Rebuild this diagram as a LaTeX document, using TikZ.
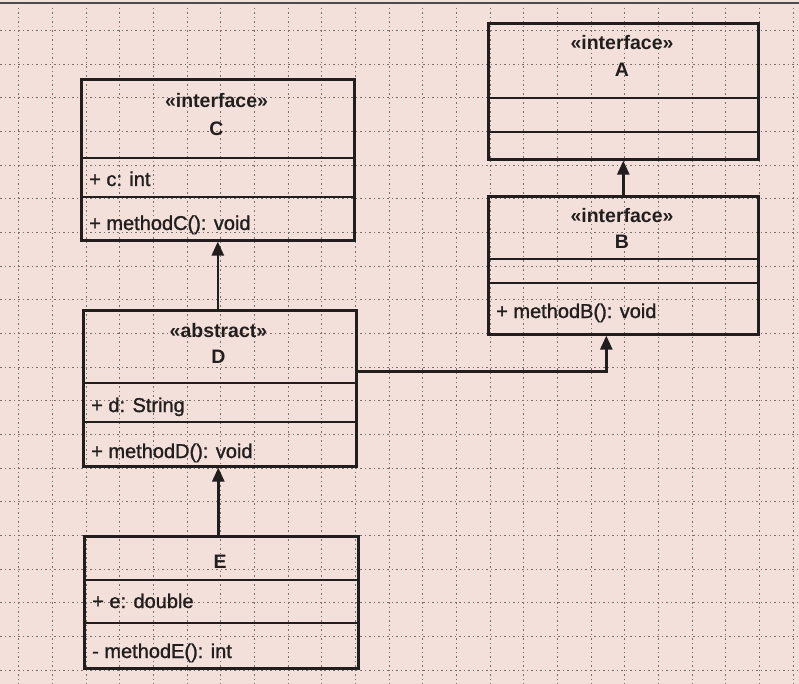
\documentclass[tikz,border=0pt]{standalone}
\usepackage{fontspec}
\setmainfont{Liberation Sans}
\newfontfamily\heavyfont[FakeBold=1.2]{Liberation Sans}
\usetikzlibrary{arrows.meta}
\definecolor{paper}{RGB}{243,224,218}
\definecolor{ink}{RGB}{34,30,30}
\definecolor{gridink}{RGB}{120,110,108}
\begin{document}
\begin{tikzpicture}[x=1pt,y=-1pt,
  classbox/.style={draw=ink, line width=2.6pt, inner sep=0pt, anchor=north west},
  divider/.style={draw=ink, line width=2.4pt},
  stereo/.style={anchor=base, inner sep=0pt, font=\fontsize{19.5}{22}\selectfont\bfseries, text=ink},
  member/.style={anchor=base west, inner sep=0pt, font=\fontsize{20}{22}\heavyfont, text=ink},
  gen/.style={draw=ink, line width=2.6pt, -{Triangle[length=14pt,width=12pt]}},
  gridline/.style={draw=gridink, line width=0.7pt, dash pattern=on 1.5pt off 3pt}]
% paper and its printed grid
\fill[paper] (0,0) rectangle (799,684);
\useasboundingbox (0,0) rectangle (799,684);
\foreach \gx in {18,52,86,119,153,187,220,254,288,321,355,389,422,456,490,523,557,591,624,658,692,725,759,793}
  \draw[gridline] (\gx,8) -- (\gx,684);
\foreach \gy in {30,64,97,131,165,198,232,266,299,333,367,400,434,468,501,535,569,602,636,670}
  \draw[gridline] (0,\gy) -- (799,\gy);
\draw[ink!80, line width=2pt] (0,3) -- (799,3);

% class A
\node[classbox, minimum width=270pt, minimum height=136pt] (A) at (487,22) {};
\draw[divider] (487,98) -- (757,98);
\draw[divider] (487,132) -- (757,132);
\node[stereo] (Ast) at (622,50) {«interface»};
\node[stereo] (An) at (622,77) {A};

% class B
\node[classbox, minimum width=270pt, minimum height=138pt] (B) at (487,195) {};
\draw[divider] (487,259) -- (757,259);
\draw[divider] (487,283) -- (757,283);
\node[stereo] (Bst) at (622,223) {«interface»};
\node[stereo] (Bn) at (622,248) {B};
\node[member] (Bm) at (496,318) {+ methodB(): void};

% class C
\node[classbox, minimum width=273pt, minimum height=161pt] (C) at (80,78) {};
\draw[divider] (80,158) -- (353,158);
\draw[divider] (80,197) -- (353,197);
\node[stereo] (Cst) at (216.5,108) {«interface»};
\node[stereo] (Cn) at (216.5,136) {C};
\node[member] (Ca) at (89,186) {+ c: int};
\node[member] (Cm) at (89,230) {+ methodC(): void};

% class D
\node[classbox, minimum width=273pt, minimum height=156pt] (D) at (82,309) {};
\draw[divider] (82,383) -- (355,383);
\draw[divider] (82,422) -- (355,422);
\node[stereo] (Dst) at (218.5,337) {«abstract»};
\node[stereo] (Dn) at (218.5,363) {D};
\node[member] (Da) at (91,412) {+ d: String};
\node[member] (Dm) at (91,458) {+ methodD(): void};

% class E
\node[classbox, minimum width=274pt, minimum height=132pt] (E) at (83,535) {};
\draw[divider] (83,580) -- (357,580);
\draw[divider] (83,623) -- (357,623);
\node[stereo] (En) at (220,568) {E};
\node[member] (Ea) at (92,608) {+ e: double};
\node[member] (Em) at (92,658) {- methodE(): int};

% generalisations
\draw[gen] (B.north) -- (B.north |- A.south);
\draw[gen] ([xshift=-2pt]D.north) -- ([xshift=-2pt]D.north |- C.south);
\draw[gen] ([xshift=-3pt]E.north) -- ([xshift=-3pt]E.north |- D.south);
\draw[gen] ([yshift=17pt]D.east) -| ([xshift=-17pt]B.south);
\end{tikzpicture}
\end{document}
